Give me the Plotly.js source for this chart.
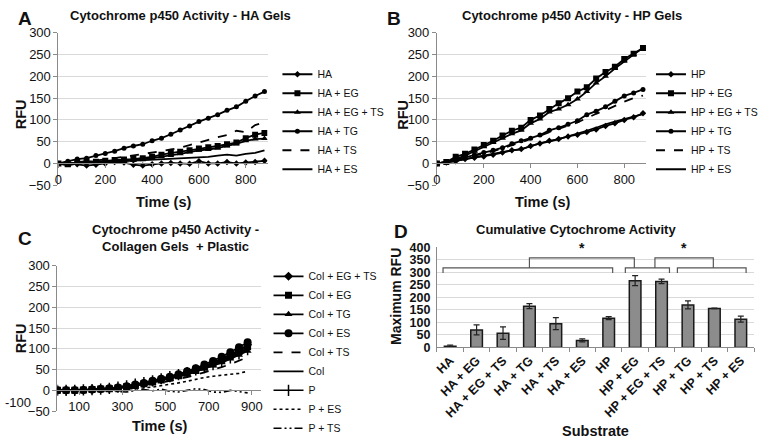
<!DOCTYPE html>
<html>
<head>
<meta charset="utf-8">
<script src="https://cdn.plot.ly/plotly-3.0.1.min.js"></script>
<style>html,body{margin:0;padding:0;background:#fff;}#chart{width:763px;height:443px;}</style>
</head>
<body>
<div id="chart"></div>
<script>
// ---------- DATA ----------
const time = [0,40,80,120,160,200,240,280,320,360,400,440,480,520,560,600,640,680,720,760,800,840,880];

// Panel A - HA gels
const aNames = ["HA","HA + EG","HA + EG + TS","HA + TG","HA + TS","HA + ES"];
const aHA     = [0,2,-2,-5,-3,0,3,2,-3,-5,-2,0,1,0,-1,5,0,0,3,0,2,3,6];
const aHAEG   = [0,-2,3,5,4,6,8,9,10,12,15,20,24,27,30,34,37,40,44,48,58,66,70];
const aHAEGTS = [0,-5,0,3,2,4,6,7,8,9,12,15,18,22,26,30,32,35,40,45,52,56,57];
const aHATG   = [0,5,10,12,18,23,28,35,40,44,52,58,67,77,86,96,104,112,122,130,143,155,165];
const aHATS   = [0,0,2,4,6,9,12,15,18,22,25,28,32,36,42,48,55,60,65,75,72,88,94];
const aHAES   = [0,0,0,1,2,3,4,5,6,7,8,9,10,11,12,14,15,18,20,18,22,24,30];

// Panel B - HP gels
const bNames = ["HP","HP + EG","HP + EG + TS","HP + TG","HP + TS","HP + ES"];
const bHP     = [0,2,5,10,13,16,20,25,30,33,40,46,52,56,62,66,72,78,86,92,100,106,115];
const bHPEG   = [0,3,15,22,32,42,52,64,75,82,100,110,125,138,150,165,175,195,210,222,240,252,265];
const bHPEGTS = [0,3,10,18,28,38,48,58,68,76,92,102,118,125,135,148,165,185,200,218,235,250,265];
const bHPTG   = [0,3,8,14,20,25,30,36,45,52,58,65,76,82,90,98,112,120,130,143,155,162,170];
const bHPTS   = [0,3,7,12,18,23,28,34,42,48,56,64,72,80,87,94,104,114,122,132,142,150,156];
const bHPES   = [0,2,6,10,14,18,22,26,30,32,40,46,50,56,62,68,75,82,90,96,102,108,113];

// Panel C - Collagen gels + plastic
const cNames = ["Col + EG + TS","Col + EG","Col + TG","Col + ES","Col + TS","Col","P","P + ES","P + TS"];
const cColEGTS = [0,0,0,1,2,3,4,6,9,13,17,21,26,31,37,43,50,58,67,76,86,97,110];
const cColEG   = [0,0,0,1,2,3,4,6,9,12,16,20,25,30,35,41,48,56,64,73,83,93,105];
const cColTG   = [0,0,0,1,2,2,3,5,8,11,15,19,23,28,33,38,45,52,59,67,76,85,95];
const cColES   = [0,0,0,1,2,3,5,7,10,14,18,23,28,33,39,46,53,62,71,81,92,104,116];
const cColTS   = [0,0,0,0,1,2,3,4,6,9,12,15,19,23,27,32,37,43,49,56,63,71,80];
const cCol     = [0,0,0,1,2,3,4,6,9,12,16,21,26,31,36,42,49,56,64,72,81,91,100];
const cP       = [0,0,0,1,2,3,5,8,11,15,19,23,28,33,38,43,49,55,62,70,78,88,98];
const cPES     = [0,0,0,0,0,1,1,2,3,4,6,8,11,14,18,22,27,31,34,36,38,41,46];
const cPTS     = [0,0,0,0,0,0,-1,-3,-4,0,2,-1,3,-2,-4,0,4,2,-4,-5,0,-3,-6];

// Panel D - cumulative
const dCats  = ["HA","HA + EG","HA + EG + TS","HA + TG","HA + TS","HA + ES","HP","HP + EG","HP + EG + TS","HP + TG","HP + TS","HP + ES"];
const dMax   = [5,70,57,165,95,28,117,267,264,170,156,113];
const dErr   = [4,20,25,10,24,6,6,20,9,16,1,12];

// tick labels
const abTicks = [0,200,400,600,800];
const cTicks  = [100,300,500,700,900];
const cExtraTickLabel = "-100";
// significance brackets (category-index spans)
const lowerBrackets = [[-0.27,6.15],[6.63,8.3],[8.6,11.2]];
const upperBrackets = [[3.0,6.97],[7.75,9.96]];

// ---------- LAYOUT HELPERS ----------
const W = 763, H = 443;
const fx = p => p / W;
const fy = p => 1 - p / H;
const FONT = "Liberation Sans, Arial, sans-serif";
const TXT = "#111";
const GRID = "#d9d9d9";
const AXL = "#8a8a8a";

function line(x, y, name, opts, axis, legend) {
  const t = {
    x: x, y: y, name: name, type: "scatter",
    mode: opts.symbol ? "lines+markers" : "lines",
    line: {color: "#000", width: opts.width || 1.8, dash: opts.dash || "solid"},
    xaxis: "x" + axis, yaxis: "y" + axis, legend: legend
  };
  if (opts.symbol) t.marker = {symbol: opts.symbol, size: opts.size || 6, color: "#000",
                                line: {color: "#000", width: opts.mlw || 0}};
  return t;
}

const traces = [];
// A
traces.push(line(time, aHA, aNames[0], {symbol:"diamond", size:5}, "", "legend"));
traces.push(line(time, aHAEG, aNames[1], {symbol:"square", size:6}, "", "legend"));
traces.push(line(time, aHAEGTS, aNames[2], {symbol:"triangle-up", size:6}, "", "legend"));
traces.push(line(time, aHATG, aNames[3], {symbol:"circle", size:5}, "", "legend"));
traces.push(line(time, aHATS, aNames[4], {dash:"dash"}, "", "legend"));
traces.push(line(time, aHAES, aNames[5], {}, "", "legend"));
// B
traces.push(line(time, bHP, bNames[0], {symbol:"diamond", size:5}, "2", "legend2"));
traces.push(line(time, bHPEG, bNames[1], {symbol:"square", size:6}, "2", "legend2"));
traces.push(line(time, bHPEGTS, bNames[2], {symbol:"triangle-up", size:6}, "2", "legend2"));
traces.push(line(time, bHPTG, bNames[3], {symbol:"circle", size:5}, "2", "legend2"));
traces.push(line(time, bHPTS, bNames[4], {dash:"dash"}, "2", "legend2"));
traces.push(line(time, bHPES, bNames[5], {}, "2", "legend2"));
// C
traces.push(line(time, cColEGTS, cNames[0], {symbol:"diamond", size:7}, "3", "legend3"));
traces.push(line(time, cColEG, cNames[1], {symbol:"square", size:7}, "3", "legend3"));
traces.push(line(time, cColTG, cNames[2], {symbol:"triangle-up", size:7}, "3", "legend3"));
traces.push(line(time, cColES, cNames[3], {symbol:"circle", size:8}, "3", "legend3"));
traces.push(line(time, cColTS, cNames[4], {dash:"dash"}, "3", "legend3"));
traces.push(line(time, cCol, cNames[5], {}, "3", "legend3"));
traces.push(line(time, cP, cNames[6], {symbol:"line-ns-open", size:8, mlw:1.5, width:1.4}, "3", "legend3"));
traces.push(line(time, cPES, cNames[7], {dash:"dot", width:1.6}, "3", "legend3"));
traces.push(line(time, cPTS, cNames[8], {dash:"8px,3px,2px,3px,2px,3px", width:1.6}, "3", "legend3"));
// D
traces.push({
  type: "bar", x: dCats, y: dMax, xaxis: "x4", yaxis: "y4", showlegend: false,
  marker: {color: "#8c8c8c", line: {color: "#1a1a1a", width: 1.5}},
  error_y: {type: "data", array: dErr, visible: true, color: "#222", thickness: 1.2, width: 3}
});

// ---------- AXES ----------
const tickFont = {family: FONT, size: 13, color: TXT};

function yAx(top, bottom, rng, dtick, anchor, extra) {
  return Object.assign({
    domain: [fy(bottom), fy(top)], range: rng, dtick: dtick, anchor: anchor,
    showgrid: true, gridcolor: GRID, gridwidth: 1, zeroline: false,
    showline: true, linecolor: AXL, linewidth: 1, ticks: "outside", ticklen: 4, tickcolor: AXL,
    tickfont: tickFont, fixedrange: true
  }, extra || {});
}
function xAxFree(left, right, rng, tickvals, yAxis) {
  const yDom = yAxis.domain, yRng = yAxis.range;
  const zeroPos = yDom[0] + (0 - yRng[0]) / (yRng[1] - yRng[0]) * (yDom[1] - yDom[0]);
  return {
    domain: [fx(left), fx(right)], range: rng, tickvals: tickvals, anchor: "free", position: zeroPos,
    showgrid: false, zeroline: false, showline: true, linecolor: AXL, linewidth: 1,
    ticks: "outside", ticklen: 4, tickcolor: AXL, tickfont: tickFont
  };
}

const yA = yAx(33, 186, [-50, 300], 50, "x");
const yB = yAx(33, 186, [-50, 300], 50, "x2");
const yC = yAx(267, 413, [-50, 300], 50, "x3");
const yD = yAx(248.5, 349, [0, 400], 50, "x4", {
  ticks: "", ticklabelstandoff: 3,
  tickfont: {family: FONT, size: 12.5, color: TXT, weight: "bold"}
});

const legFont = {family: FONT, size: 10.5, color: TXT};
const layout = {
  width: W, height: H, margin: {l: 0, r: 0, t: 0, b: 0},
  paper_bgcolor: "#fff", plot_bgcolor: "rgba(0,0,0,0)",
  font: {family: FONT, color: TXT},
  xaxis: xAxFree(59, 270, [0, 893], abTicks, yA),
  yaxis: yA,
  xaxis2: xAxFree(441, 652, [0, 893], abTicks, yB),
  yaxis2: yB,
  xaxis3: xAxFree(58, 263, [0, 940], cTicks, yC),
  yaxis3: yC,
  xaxis4: {
    domain: [fx(441), fx(761)], anchor: "y4", type: "category",
    showline: true, linecolor: AXL, ticks: "outside", tickson: "boundaries", ticklen: 4, tickcolor: AXL,
    tickangle: -45, tickfont: {family: FONT, size: 12.5, color: TXT, weight: "bold"}
  },
  yaxis4: yD,
  bargap: 0.56,
  showlegend: true,
  legend: {x: fx(280), y: fy(60), xanchor: "left", yanchor: "top", bgcolor: "rgba(0,0,0,0)",
           font: legFont, itemwidth: 30, tracegroupgap: 0},
  legend2: {x: fx(657), y: fy(60), xanchor: "left", yanchor: "top", bgcolor: "rgba(0,0,0,0)",
           font: legFont, itemwidth: 30, tracegroupgap: 0},
  legend3: {x: fx(271), y: fy(263), xanchor: "left", yanchor: "top", bgcolor: "rgba(0,0,0,0)",
           font: legFont, itemwidth: 30, tracegroupgap: 0},
  annotations: [],
  shapes: []
};

// titles, axis titles and letters
const ann = layout.annotations;
function txt(x, y, text, size, extra) {
  ann.push(Object.assign({xref: "paper", yref: "paper", x: fx(x), y: fy(y), text: text, showarrow: false,
    xanchor: "center", yanchor: "middle", borderpad: 0,
    font: {family: FONT, size: size, color: TXT, weight: "bold"}}, extra || {}));
}
txt(25, 19, "A", 19);
txt(398, 19, "B", 19);
txt(25, 240, "C", 19);
txt(405, 233, "D", 19);
txt(182, 16, "Cytochrome p450 Activity - HA Gels", 13);
txt(577, 16, "Cytochrome p450 Activity - HP Gels", 13);
txt(177, 239, "Cytochrome p450 Activity -<br>Collagen Gels  + Plastic", 13);
txt(581, 231, "Cumulative Cytochrome Activity", 13);
// axis titles
txt(22, 115, "RFU", 14.5, {textangle: -90});
txt(407, 115, "RFU", 14.5, {textangle: -90});
txt(22, 340, "RFU", 14.5, {textangle: -90});
txt(399, 298, "Maximum RFU", 14, {textangle: -90});
txt(166, 203, "Time (s)", 14.5);
txt(548, 203, "Time (s)", 14.5);
txt(161, 428, "Time (s)", 14.5);
txt(601, 433, "Substrate", 14.5);
// stray axis label at the left end of panel C's time axis
ann.push({xref: "paper", yref: "paper", x: fx(18), y: fy(404), text: cExtraTickLabel, showarrow: false,
  xanchor: "center", yanchor: "middle", font: {family: FONT, size: 13, color: TXT}});

// significance brackets
const BR = {color: "#555", width: 1.2};
function bracket(span, yTop, yLeg) {
  const pts = `M ${span[0]} ${yLeg} L ${span[0]} ${yTop} L ${span[1]} ${yTop} L ${span[1]} ${yLeg}`;
  layout.shapes.push({type: "path", xref: "x4", yref: "y4", path: pts, line: BR});
}
lowerBrackets.forEach(s => bracket(s, 318, 298));
upperBrackets.forEach(s => {
  bracket(s, 358, 318);
  ann.push({xref: "x4", yref: "y4", x: (s[0] + s[1]) / 2, y: 356, text: "*", showarrow: false,
    yanchor: "bottom", font: {family: FONT, size: 14, color: TXT, weight: "bold"}});
});

Plotly.newPlot("chart", traces, layout, {staticPlot: true, displayModeBar: false});
</script>
</body>
</html>
